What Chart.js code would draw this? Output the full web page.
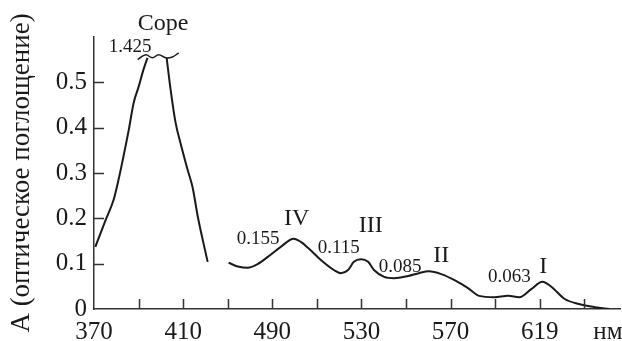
<!DOCTYPE html>
<html>
<head>
<meta charset="utf-8">
<script src="https://cdn.jsdelivr.net/npm/chart.js@4/dist/chart.umd.min.js"></script>
<style>
  html,body{margin:0;padding:0;background:#fff}
  #wrap{width:622px;height:341px}
</style>
</head>
<body>
<div id="wrap"><canvas id="c" width="622" height="341"></canvas></div>
<script>
// x positions are in tick steps along the (non-uniform) wavelength axis
const xTickLabels = {0:'370', 2:'410', 4:'490', 6:'530', 8:'570', 10:'619'};

const soretX = [0.03,0.15,0.26,0.44,0.55,0.66,0.78,0.89,1.00,1.11,1.20];
const soretA = [0.137,0.168,0.196,0.241,0.285,0.336,0.395,0.455,0.490,0.528,0.554];
const soretX2 = [1.63,1.72,1.83,1.94,2.10,2.21,2.33,2.44,2.55];
const soretA2 = [0.554,0.483,0.411,0.366,0.307,0.269,0.203,0.152,0.104];

const breakX = [0.98,1.16,1.31,1.45,1.61,1.76,1.90];
const breakA = [0.550,0.561,0.554,0.561,0.554,0.556,0.565];

const qX = [3.02,3.25,3.45,3.67,3.90,4.19,4.48,4.64,4.80,5.09,5.38,5.54,5.70,5.83,5.99,6.15,6.28,6.51,6.73,7.05,7.29,7.51,7.79,8.12,8.39,8.64,8.98,9.29,9.54,9.81,10.06,10.26,10.56,10.88,11.24,11.56];
const qA = [0.102,0.093,0.091,0.099,0.115,0.137,0.155,0.148,0.135,0.108,0.086,0.079,0.086,0.104,0.110,0.104,0.086,0.071,0.068,0.073,0.079,0.083,0.077,0.062,0.046,0.029,0.026,0.029,0.026,0.044,0.060,0.049,0.022,0.011,0.004,0.0];

const notes = [
  {t:'Соре', x:0.98, y:0.616, s:24},
  {t:'1.425', x:0.33, y:0.567, s:19},
  {t:'IV', x:4.26, y:0.185, s:24},
  {t:'0.155', x:3.20, y:0.143, s:19},
  {t:'III', x:5.94, y:0.170, s:24},
  {t:'0.115', x:5.02, y:0.124, s:19},
  {t:'II', x:7.61, y:0.104, s:24},
  {t:'0.085', x:6.39, y:0.082, s:19},
  {t:'I', x:9.99, y:0.079, s:24},
  {t:'0.063', x:8.84, y:0.060, s:19},
  {t:'нм', x:11.2, y:-0.066, s:25}
];

const SERIF = '"Liberation Serif","Times New Roman",serif';
const INK = '#1a1a1a';
const pts = (xs, ys) => xs.map((x,i)=>({x:x, y:ys[i]}));
const line = d => ({data:d, borderColor:INK, borderWidth:2, pointRadius:0, cubicInterpolationMode:'monotone', fill:false});

const extras = {
  id:'extras',
  afterDraw(chart){
    const {ctx, scales:{x, y}, chartArea:a} = chart;
    ctx.save();
    ctx.strokeStyle = '#333';
    ctx.lineWidth = 1.5;
    ctx.beginPath();
    for (let i=1;i<=11;i++){
      const px = Math.round(x.getPixelForValue(i))+0.5;
      ctx.moveTo(px, a.bottom); ctx.lineTo(px, a.bottom-10);
    }
    for (let v=1;v<=5;v++){
      const py = Math.round(y.getPixelForValue(v/10))+0.5;
      ctx.moveTo(a.left, py); ctx.lineTo(a.left+10, py);
    }
    ctx.stroke();
    ctx.fillStyle = INK;
    ctx.textAlign = 'left';
    ctx.textBaseline = 'alphabetic';
    notes.forEach(n=>{
      ctx.font = n.s+'px '+SERIF;
      ctx.fillText(n.t, x.getPixelForValue(n.x), y.getPixelForValue(n.y));
    });
    ctx.restore();
  }
};

new Chart(document.getElementById('c'), {
  type:'line',
  data:{datasets:[
    line(pts(soretX, soretA)),
    line(pts(soretX2, soretA2)),
    Object.assign(line(pts(breakX, breakA)), {borderWidth:1.5, cubicInterpolationMode:'default', tension:0.4}),
    line(pts(qX, qA))
  ]},
  options:{
    responsive:false,
    animation:false,
    layout:{padding:{top:37, right:2, left:0, bottom:0}},
    plugins:{legend:{display:false}, tooltip:{enabled:false}},
    scales:{
      x:{type:'linear', min:0, max:11.8,
        grid:{display:false, drawTicks:false},
        border:{display:true, color:'#333', width:1.5},
        ticks:{stepSize:1, includeBounds:false, autoSkip:false, maxRotation:0, padding:8,
          color:INK, font:{family:SERIF, size:25},
          callback:v => xTickLabels[v] || ''},
        afterFit(s){ s.height = 32; }
      },
      y:{min:0, max:0.6,
        grid:{display:false, drawTicks:false},
        border:{display:true, color:'#333', width:1.5},
        ticks:{stepSize:0.1, padding:7, color:INK, font:{family:SERIF, size:25},
          callback:v => v > 0.55 ? '' : (v === 0 ? '0' : v.toFixed(1))},
        title:{display:true, text:'A (оптическое поглощение)', color:INK,
          font:{family:SERIF, size:27}, padding:{top:6, bottom:0}},
        afterFit(s){ s.width = 94; }
      }
    }
  },
  plugins:[extras]
});
</script>
</body>
</html>
